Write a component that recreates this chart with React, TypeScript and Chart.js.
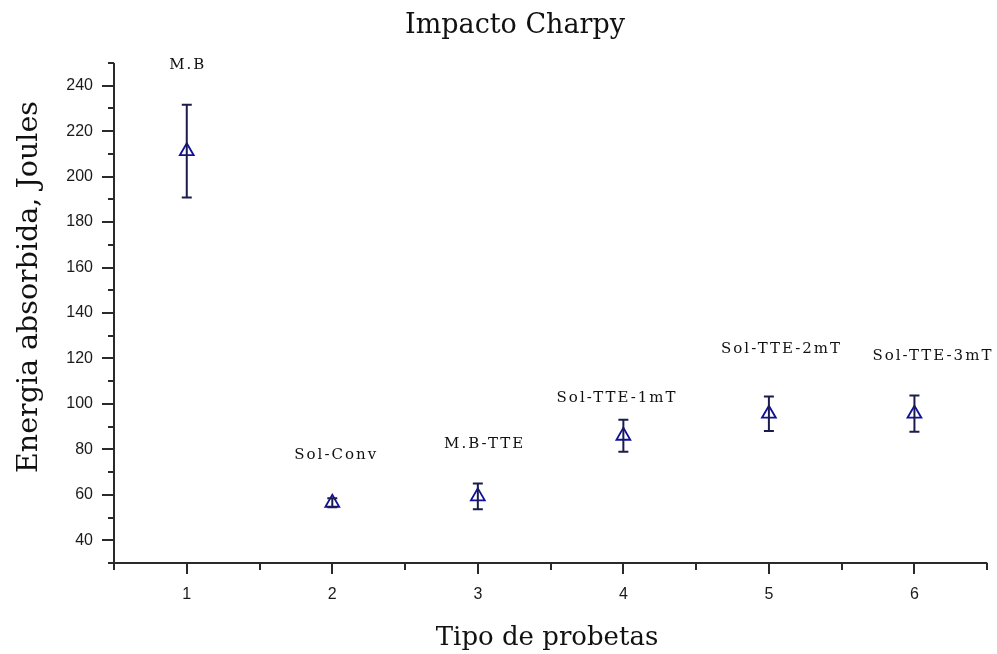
import React, { useEffect, useRef } from 'react';
import { Chart, registerables } from 'chart.js';

Chart.register(...registerables);

// ---- data ----
const categories = [1, 2, 3, 4, 5, 6];
const sampleNames = ['M.B', 'Sol-Conv', 'M.B-TTE', 'Sol-TTE-1mT', 'Sol-TTE-2mT', 'Sol-TTE-3mT'];
const meanEnergy = [211.2, 56.5, 59.3, 86, 95.7, 95.7];
const errEnergy = [20.4, 2, 5.7, 7, 7.6, 8];
const labelX = [1.0, 2.02, 3.04, 3.95, 5.08, 6.12];
const labelY = [249, 77.4, 82.2, 102.6, 124.2, 121.1];
const xTickLabels = ['1', '2', '3', '4', '5', '6'];
const yTickValues = [40, 60, 80, 100, 120, 140, 160, 180, 200, 220, 240];
const titleText = 'Impacto Charpy';
const xTitleText = 'Tipo de probetas';
const yTitleText = 'Energia absorbida, Joules';

const MARKER = '#10109a';
const ERRBAR = '#1c1c4c';
const AXIS = '#2a2a2a';
const SERIF = '"DejaVu Serif", serif';

const decorPlugin = {
  id: 'decor',
  afterDatasetsDraw(chart: any) {
    const ctx = chart.ctx;
    const xs = chart.scales.x;
    const ys = chart.scales.y;
    ctx.save();
    ctx.strokeStyle = ERRBAR;
    ctx.lineWidth = 2;
    for (let i = 0; i < categories.length; i++) {
      const px = xs.getPixelForValue(categories[i]);
      const top = ys.getPixelForValue(meanEnergy[i] + errEnergy[i]);
      const bot = ys.getPixelForValue(meanEnergy[i] - errEnergy[i]);
      ctx.beginPath();
      ctx.moveTo(px, top);
      ctx.lineTo(px, bot);
      ctx.moveTo(px - 5, top);
      ctx.lineTo(px + 5, top);
      ctx.moveTo(px - 5, bot);
      ctx.lineTo(px + 5, bot);
      ctx.stroke();
    }
    ctx.restore();
  },
  afterDraw(chart: any) {
    const ctx = chart.ctx;
    const xs = chart.scales.x;
    const ys = chart.scales.y;
    const area = chart.chartArea;
    ctx.save();
    ctx.strokeStyle = AXIS;
    ctx.lineWidth = 2;
    ctx.beginPath();
    ctx.moveTo(area.left, area.top);
    ctx.lineTo(area.left, area.bottom);
    ctx.lineTo(area.right, area.bottom);
    ctx.stroke();
    ctx.beginPath();
    for (const t of ys.ticks) {
      const py = Math.round(ys.getPixelForValue(t.value));
      const major = t.value % 20 === 0;
      ctx.moveTo(area.left, py);
      ctx.lineTo(area.left - (major ? 12 : 6), py);
    }
    for (const t of xs.ticks) {
      const px = Math.round(xs.getPixelForValue(t.value));
      const major = Number.isInteger(t.value);
      ctx.moveTo(px, area.bottom);
      ctx.lineTo(px, area.bottom + (major ? 11 : 7));
    }
    ctx.stroke();

    // point labels
    ctx.fillStyle = '#111';
    ctx.font = `15px ${SERIF}`;
    ctx.textAlign = 'center';
    ctx.textBaseline = 'middle';
    (ctx as any).letterSpacing = '2px';
    for (let i = 0; i < sampleNames.length; i++) {
      ctx.fillText(sampleNames[i], xs.getPixelForValue(labelX[i]) + 1, ys.getPixelForValue(labelY[i]));
    }
    (ctx as any).letterSpacing = '0px';

    // titles
    ctx.textBaseline = 'alphabetic';
    ctx.font = `27px ${SERIF}`;
    ctx.fillText(titleText, 515, 33);
    ctx.font = `26px ${SERIF}`;
    ctx.fillText(xTitleText, 547, 645);
    ctx.font = `28.5px ${SERIF}`;
    ctx.translate(37, 287);
    ctx.rotate(-Math.PI / 2);
    ctx.fillText(yTitleText, 0, 0);
    ctx.restore();
  },
};

export default function App() {
  const ref = useRef<HTMLCanvasElement>(null);
  useEffect(() => {
    document.body.style.margin = '0';
    const chart = new Chart(ref.current as HTMLCanvasElement, {
      type: 'scatter',
      data: {
        datasets: [
          {
            label: 'Energia',
            data: categories.map((c, i) => ({ x: c, y: meanEnergy[i] })),
            pointStyle: 'triangle',
            pointRadius: 8,
            pointBorderWidth: 1.8,
            borderColor: MARKER,
            backgroundColor: 'rgba(0,0,0,0)',
            pointBackgroundColor: 'rgba(0,0,0,0)',
            pointBorderColor: MARKER,
            showLine: false,
          },
        ],
      },
      options: {
        animation: false,
        responsive: false,
        layout: { padding: { top: 63, right: 6, left: 0, bottom: 0 } },
        plugins: {
          legend: { display: false },
          title: { display: false },
          tooltip: { enabled: false },
        },
        scales: {
          x: {
            type: 'linear',
            min: 0.5,
            max: 6.5,
            afterFit: (s: any) => { s.height = 91; s.paddingLeft = 0; s.paddingRight = 0; },
            grid: { display: false, drawTicks: false },
            border: { display: false },
            ticks: {
              stepSize: 0.5,
              autoSkip: false,
              maxRotation: 0,
              padding: 22,
              color: '#1a1a1a',
              font: { family: '"Liberation Sans", Arial, sans-serif', size: 16 },
              callback: (v: any) => {
                const n = Number(v);
                return Number.isInteger(n) && n >= 1 && n <= 6 ? xTickLabels[n - 1] : '';
              },
            },
          },
          y: {
            type: 'linear',
            min: 30,
            max: 250,
            afterFit: (s: any) => { s.width = 114; s.paddingTop = 0; s.paddingBottom = 0; },
            grid: { display: false, drawTicks: false },
            border: { display: false },
            ticks: {
              stepSize: 10,
              autoSkip: false,
              padding: 21,
              color: '#1a1a1a',
              font: { family: '"Liberation Sans", Arial, sans-serif', size: 16 },
              callback: (v: any) => (yTickValues.includes(Number(v)) ? String(v) : ''),
            },
          },
        },
      },
      plugins: [decorPlugin],
    });
    return () => chart.destroy();
  }, []);
  return (
    <div style={{ position: 'absolute', left: 0, top: 0, width: 997, height: 654, background: '#fff' }}>
      <canvas ref={ref} width={997} height={654} style={{ display: 'block' }} />
    </div>
  );
}
